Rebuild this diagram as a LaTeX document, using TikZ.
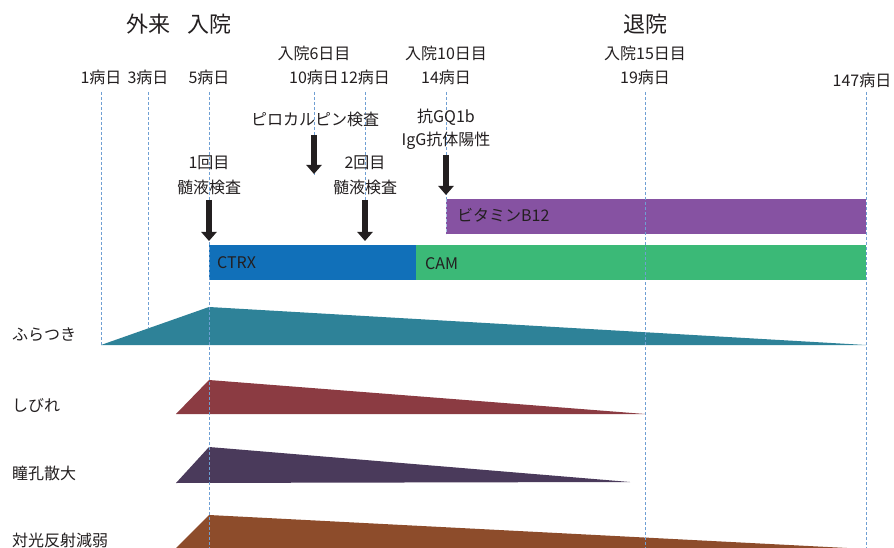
\documentclass[tikz,border=0pt]{standalone}
\usepackage{fontspec}
\setmainfont{Noto Sans CJK JP}
\usetikzlibrary{arrows.meta}
\definecolor{dashc}{HTML}{6F9FD3}
\definecolor{arrowc}{HTML}{231F20}
\definecolor{txtc}{HTML}{231F20}
\definecolor{ctrxc}{HTML}{1170B9}
\definecolor{camc}{HTML}{3BB977}
\definecolor{vitc}{HTML}{8652A2}
\definecolor{furac}{HTML}{2E8298}
\definecolor{shibc}{HTML}{8B3B42}
\definecolor{dokoc}{HTML}{4A3A5B}
\definecolor{taikoc}{HTML}{8D4C2B}
\begin{document}
\begin{tikzpicture}[x=1pt,y=-1pt,
  lbl/.style={font=\fontsize{16}{18}\selectfont, text=txtc, inner sep=0pt},
  head/.style={font=\fontsize{22}{24}\selectfont, text=txtc, inner sep=0pt},
  vline/.style={draw=dashc, dash pattern=on 3pt off 2pt, line width=0.8pt},
  bigarrow/.style={draw=arrowc, line width=6pt, -{Triangle[width=15pt,length=9pt]}},
  barlbl/.style={font=\fontsize{16}{18}\selectfont, text=txtc, inner sep=0pt, anchor=west}]
\useasboundingbox (0,0) rectangle (894,548);
\fill[white] (0,0) rectangle (894,548);

% headings
\node[head] (gairai) at (148,24) {外来};
\node[head] (nyuin) at (209,24) {入院};
\node[head] (taiin) at (645,24) {退院};

% hospital-day labels
\node[lbl] (h6) at (314,53) {入院6日目};
\node[lbl] (h10) at (446,53) {入院10日目};
\node[lbl] (h15) at (645,53) {入院15日目};

% illness-day labels
\node[lbl] (d1) at (101,77) {1病日};
\node[lbl] (d3) at (148,77) {3病日};
\node[lbl] (d5) at (209,77) {5病日};
\node[lbl] (d10) at (314,77) {10病日};
\node[lbl] (d12) at (365,77) {12病日};
\node[lbl] (d14) at (446,77) {14病日};
\node[lbl] (d19) at (645,77) {19病日};
\node[lbl] (d147) at (862,80) {147病日};

% bars
\fill[vitc] (446,199) rectangle (866,234);
\draw[vline, draw=dashc!60] (446,199) -- (446,234);
\fill[ctrxc] (209,245) rectangle (416,280);
\fill[camc] (416,245) rectangle (866,280);
\node[barlbl] (vit) at (457,215) {ビタミンB12};
\node[barlbl] (ctrx) at (217,263) {CTRX};
\node[barlbl] (cam) at (425,264) {CAM};

% symptom shapes
\fill[furac] (101,345) -- (209,307) -- (866,345) -- cycle;
\fill[shibc] (176,414) -- (209,380) -- (645,414) -- cycle;
\fill[dokoc] (176,483) -- (209,447) -- (630,482) -- cycle;
\fill[taikoc] (176,548) -- (209,515) -- (847,548) -- cycle;

% symptom labels
\node[lbl, anchor=west] (fura) at (12,335) {ふらつき};
\node[lbl, anchor=west] (shib) at (12,405) {しびれ};
\node[lbl, anchor=west] (doko) at (12,473) {瞳孔散大};
\node[lbl, anchor=west] (taiko) at (12,540) {対光反射減弱};

% dashed day lines
\coordinate (t1) at (101,92);   \coordinate (b1) at (101,345);
\coordinate (t3) at (148,92);   \coordinate (b3) at (148,328);
\coordinate (t5) at (209,92);   \coordinate (b5) at (209,548);
\coordinate (t10) at (314,92);  \coordinate (b10) at (314,176);
\coordinate (t12) at (365,92);  \coordinate (b12) at (365,240);
\coordinate (t14) at (446,92);  \coordinate (b14) at (446,199);
\coordinate (t19) at (645,92);  \coordinate (b19) at (645,548);
\coordinate (t147) at (866,92); \coordinate (b147) at (866,548);
\foreach \n in {1,3,5,10,12,14,19,147} \draw[vline] (t\n) -- (b\n);

% exam labels
\node[lbl] (piro) at (315,119) {ピロカルピン検査};
\node[lbl] (gq) at (446,117) {抗GQ1b};
\node[lbl] (igg) at (446,141) {IgG抗体陽性};
\node[lbl] (k1a) at (209,163) {1回目};
\node[lbl] (k1b) at (209,187) {髄液検査};
\node[lbl] (k2a) at (365,163) {2回目};
\node[lbl] (k2b) at (365,187) {髄液検査};

% arrows
\coordinate (pa) at (314,135); \coordinate (pb) at (314,174);
\coordinate (ga) at (446,155); \coordinate (gb) at (446,195);
\coordinate (s1a) at (209,200); \coordinate (s1b) at (209,241);
\coordinate (s2a) at (365,200); \coordinate (s2b) at (365,241);
\draw[bigarrow] (pa) -- (pb);
\draw[bigarrow] (ga) -- (gb);
\draw[bigarrow] (s1a) -- (s1b);
\draw[bigarrow] (s2a) -- (s2b);
\end{tikzpicture}
\end{document}
